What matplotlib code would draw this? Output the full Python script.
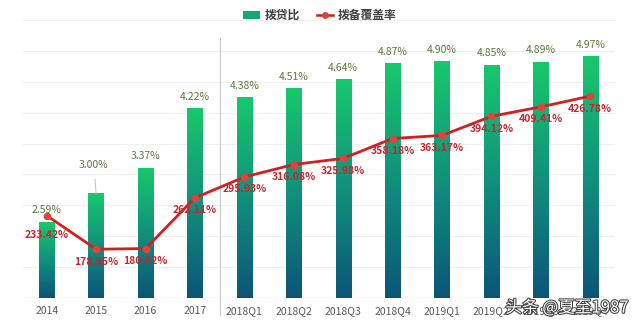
import numpy as np
import matplotlib
matplotlib.use("Agg")
import matplotlib.pyplot as plt
import matplotlib.patheffects as pe
from matplotlib.colors import LinearSegmentedColormap
from matplotlib.patches import Patch
from matplotlib.lines import Line2D

plt.rcParams['font.family'] = ['Noto Sans CJK SC', 'DejaVu Sans']

# data
periods = ['2014', '2015', '2016', '2017', '2018Q1', '2018Q2', '2018Q3',
           '2018Q4', '2019Q1', '2019Q2', '2019Q3', '2019Q4']
loan_ratio = [2.59, 3.00, 3.37, 4.22, 4.38, 4.51, 4.64, 4.87, 4.90, 4.85, 4.89, 4.97]
coverage = [233.42, 178.95, 180.02, 262.11, 295.93, 316.08, 325.98,
            358.18, 363.17, 394.12, 409.41, 426.78]

BAR_LABEL_COLOR = "#5b7a3c"
LINE_COLOR = "#d0201f"
LINE_LABEL_COLOR = "#c4262e"
TICK_COLOR = "#595959"

grad = LinearSegmentedColormap.from_list("bar", ["#0c5578", "#11907c", "#18c86c"])

fig = plt.figure(figsize=(6.4, 3.27), dpi=100)
rect = [22 / 640, 29 / 327, 593 / 640, 278 / 327]

# background axes for the faint gridlines, kept behind everything
bg = fig.add_axes(rect, zorder=-1)
bg.set_ylim(100, 550)
for v in range(150, 551, 50):
    bg.axhline(v, color="#f0f0f0", lw=0.8)
bg.axhline(100, color="#dedede", lw=0.9)
bg.axis("off")

ax = fig.add_axes(rect)
ax.patch.set_visible(False)
ax2 = ax.twinx()

x = np.arange(len(periods))

# bars: the bar patches give the geometry, a gradient image fills each one
bars = ax.bar(x, loan_ratio, width=0.31, color="none", edgecolor="none", zorder=2)
ymin = 1.5
gy = np.repeat(np.linspace(0, 1, 256).reshape(-1, 1), 2, axis=1)
for b in bars:
    x0, w, top = b.get_x(), b.get_width(), b.get_height()
    ax.imshow(gy, cmap=grad, origin="lower", aspect="auto", interpolation="bicubic",
              extent=[x0, x0 + w, ymin, top], zorder=2)

ax.set_xlim(-0.5, len(periods) - 0.5)
ax.set_ylim(1.5, 5.5)
ax2.set_ylim(100, 550)

# bar value labels
for i, v in enumerate(loan_ratio):
    if i == 1:
        ax.annotate(f"{v:.2f}%", xy=(i, v), xytext=(i - 0.05, v + 0.42),
                    ha="center", va="center", fontsize=7.5, color=BAR_LABEL_COLOR,
                    arrowprops=dict(arrowstyle="-", color="#bfbfbf", lw=0.7,
                                    shrinkA=5, shrinkB=0))
    else:
        ax.annotate(f"{v:.2f}%", xy=(i, v), xytext=(0, 5), textcoords="offset points",
                    ha="center", va="bottom", fontsize=7.5, color=BAR_LABEL_COLOR)

# separator between yearly and quarterly data
ax.axvline(3.5, ymin=-0.06, ymax=0.935, color="#c8c8c8", lw=0.8, clip_on=False)

# coverage line
ax2.plot(x, coverage, color=LINE_COLOR, lw=2, marker="o", ms=4.5,
         markerfacecolor="#d8463e", markeredgecolor="#d8463e", zorder=5)
for i, v in enumerate(coverage):
    dy = -14 if i == 0 else -9
    ax2.annotate(f"{v:.2f}%", xy=(i, v), xytext=(0, dy), textcoords="offset points",
                 ha="center", va="center", fontsize=7.5, fontweight="bold",
                 color=LINE_LABEL_COLOR, zorder=6)

ax.set_xticks(x)
ax.set_xticklabels(periods, fontsize=7.5, color=TICK_COLOR, fontweight="medium")
ax.tick_params(axis="x", length=0, pad=6)
ax.set_yticks([])
ax2.set_yticks([])
for a in (ax, ax2):
    for s in a.spines.values():
        s.set_visible(False)

handles = [Patch(facecolor="#15a874", edgecolor="none"),
           Line2D([0], [0], color=LINE_COLOR, lw=1.8, marker="o", ms=4,
                  markerfacecolor="#d8463e", markeredgecolor="#d8463e")]
fig.legend(handles, ["拨贷比", "拨备覆盖率"], loc="center", bbox_to_anchor=(0.5, 0.952),
           ncol=2, frameon=False, handlelength=1.4, handleheight=0.7,
           columnspacing=1.4, handletextpad=0.4, labelcolor="#404040",
           prop={"weight": "bold", "size": 8.5})

fig.text(0.982, 0.058, "头条 @夏至1987", ha="right", va="center", fontsize=12,
         color="white", path_effects=[pe.withStroke(linewidth=1.5, foreground="#404040")])

fig.savefig("out.png", dpi=100)
